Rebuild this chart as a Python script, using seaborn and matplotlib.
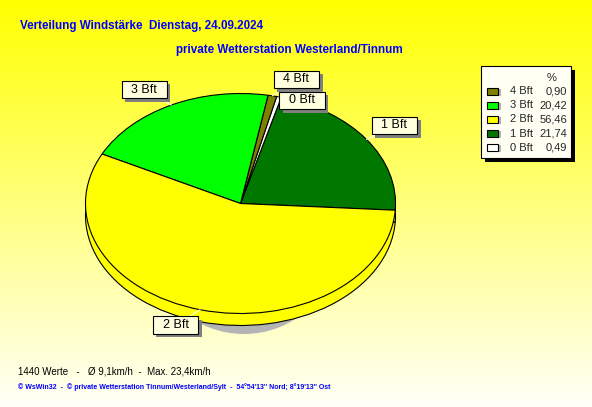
import numpy as np
import pandas as pd
import matplotlib
matplotlib.use("Agg")
import matplotlib.pyplot as plt
import matplotlib.patheffects as pe
from matplotlib.patches import Rectangle, Ellipse
import seaborn as sns

# ---------------- data ----------------
categories = ["4 Bft", "3 Bft", "2 Bft", "1 Bft", "0 Bft"]
percent = [0.90, 20.42, 56.46, 21.74, 0.49]
colors = ["#808000", "#00FF00", "#FFFF00", "#007800", "#FFFFFF"]
percent_labels = ["0,90", "20,42", "56,46", "21,74", "0,49"]
pie_order = ["1 Bft", "0 Bft", "4 Bft", "3 Bft", "2 Bft"]

title1 = "Verteilung Windstärke  Dienstag, 24.09.2024"
title2 = "private Wetterstation Westerland/Tinnum"
footer1 = "1440 Werte   -   Ø 9,1km/h  -  Max. 23,4km/h"
footer2 = "© WsWin32  -  © private Wetterstation Tinnum/Westerland/Sylt  -  54°54'13'' Nord; 8°19'13'' Ost"

df = pd.DataFrame({"cat": categories, "pct": percent, "color": colors, "lab": percent_labels})
pie_df = df.set_index("cat").loc[pie_order].reset_index()

sns.set_style("white")
plt.rcParams["font.family"] = ["Liberation Sans", "DejaVu Sans"]

W, H = 592, 407
fig = plt.figure(figsize=(W / 100, H / 100), dpi=100)

# background gradient
bg = fig.add_axes([0, 0, 1, 1])
grad = np.linspace(0, 248, 256)
img = np.zeros((256, 1, 3))
img[:, 0, 0] = 1
img[:, 0, 1] = 1
img[:, 0, 2] = grad / 255
bg.imshow(img, aspect="auto", extent=[0, 1, 0, 1], origin="upper")
bg.set_axis_off()

# pie axes: ellipse geometry in pixels
cx, cy, a, b, depth = 240.5, 203.5, 155.0, 110.0, 12.0
ax = fig.add_axes([0, 0, 1, 1])
ax.patch.set_alpha(0)

shadow = Ellipse(((244 - cx) / a, -(250 - cy) / b), width=2 * 90 / a, height=2 * 84 / b,
                 facecolor="#B4B4B4", edgecolor="none", zorder=0)
ax.add_patch(shadow)

d = depth / b
nlayers = 14
for i, off in enumerate(np.linspace(-d, 0, nlayers)):
    ax.pie(pie_df["pct"], colors=pie_df["color"], startangle=-3.5, counterclock=True,
           center=(0, off), radius=1.0,
           wedgeprops=dict(linewidth=0, edgecolor="none"))
# bottom outline
ax.pie(pie_df["pct"], colors=pie_df["color"], startangle=-3.5, counterclock=True,
       center=(0, -d), radius=1.0,
       wedgeprops=dict(linewidth=0.8, edgecolor="black", fill=False))
wedges, _ = ax.pie(pie_df["pct"], colors=pie_df["color"], startangle=-3.5, counterclock=True,
                   center=(0, 0), radius=1.0,
                   wedgeprops=dict(linewidth=0.8, edgecolor="black"))
ax.set_aspect("auto")
ax.set_xlim(-cx / a, (W - cx) / a)
ax.set_ylim(-(H - cy) / b, cy / b)
ax.set_axis_off()

# slice labels
label_offsets = {"3 Bft": (-27, 15.5), "1 Bft": (28, 14), "2 Bft": (-24.5, -15.5),
                 "0 Bft": (23, -3.5), "4 Bft": (24, 16.5)}
for w, cat in zip(wedges, pie_df["cat"]):
    mid = np.deg2rad((w.theta1 + w.theta2) / 2)
    px, py = np.cos(mid), np.sin(mid)
    t = ax.annotate("  " + cat + "  ", xy=(px, py), xytext=label_offsets[cat],
                    textcoords="offset pixels", ha="center", va="center", fontsize=9,
                    color="black",
                    bbox=dict(boxstyle="square,pad=0.22", facecolor="#FFFFE0", edgecolor="black", linewidth=0.8),
                    arrowprops=dict(arrowstyle="-", color="white", linewidth=0.8, shrinkA=0, shrinkB=0),
                    zorder=10)
    t.get_bbox_patch().set_path_effects([pe.SimplePatchShadow(offset=(2.5, -2.5), shadow_rgbFace="#808080", alpha=1.0),
                                         pe.Normal()])

# overlay axes in pixel coordinates
ov = fig.add_axes([0, 0, 1, 1])
ov.set_xlim(0, W)
ov.set_ylim(H, 0)
ov.set_axis_off()
ov.patch.set_alpha(0)

ov.text(20, 29, title1, color="#0000FF", fontsize=8.4, fontweight="bold", va="baseline", ha="left")
ov.text(176, 53, title2, color="#0000FF", fontsize=8.4, fontweight="bold", va="baseline", ha="left")
ov.text(18, 374, footer1, color="black", fontsize=7.0, va="baseline", ha="left")
ov.text(18, 389, footer2, color="#0000FF", fontsize=5.0, fontweight="bold", va="baseline", ha="left")

# legend
ov.add_patch(Rectangle((484.5, 69.5), 90, 92, facecolor="black", edgecolor="none", zorder=5))
ov.add_patch(Rectangle((480.5, 65.5), 90, 92, facecolor="#FFFFF4", edgecolor="black", linewidth=0.8, zorder=6))
ov.text(552, 78, "%", fontsize=8, ha="center", va="center", zorder=7)
for i, row in df.iterrows():
    y = 91 + i * 14.2
    ov.add_patch(Rectangle((490, y - 2.5), 11, 7, facecolor="#B4B4B4", edgecolor="none", zorder=6))
    ov.add_patch(Rectangle((487, y - 3.5), 11, 7, facecolor=row["color"], edgecolor="black", linewidth=0.8, zorder=7))
    ov.text(510, y, row["cat"], fontsize=8, ha="left", va="center", zorder=7)
    ov.text(567, y, row["lab"], fontsize=8, ha="right", va="center", zorder=7)

fig.savefig("out.png", dpi=100)
